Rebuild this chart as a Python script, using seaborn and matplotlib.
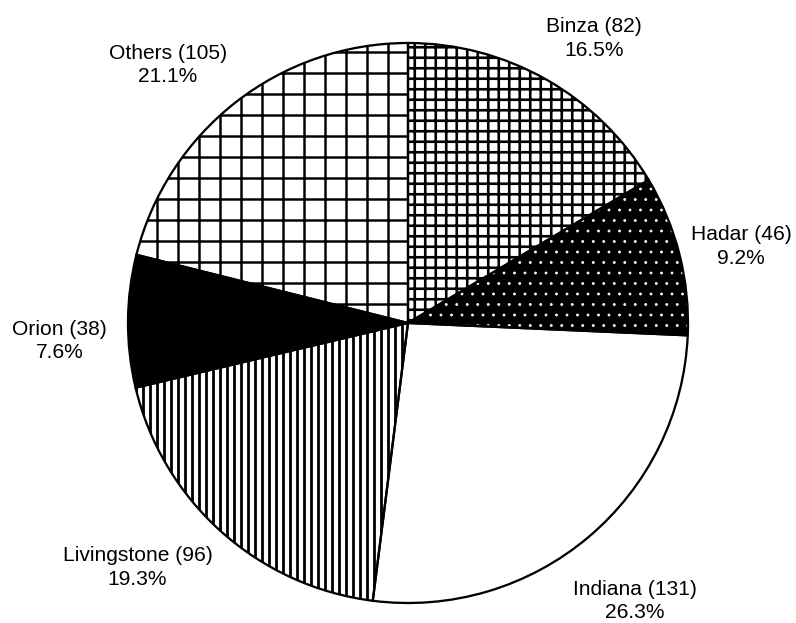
# pie of sites with hatch fills (black & white print style)
import matplotlib
matplotlib.use("Agg")
import matplotlib.pyplot as plt
import seaborn as sns

# -------------------------
# data
# -------------------------
sites = ["Binza", "Hadar", "Indiana", "Livingstone", "Orion", "Others"]
counts = [82, 46, 131, 96, 38, 105]

# fill styles per slice: face colour, hatch pattern, hatch colour, hatch width
faces = ["white", "black", "white", "white", "black", "white"]
hatches = ["++", "..", "", "|||", "", "+"]
hatch_cols = ["black", "white", "black", "black", "black", "black"]
hatch_lw = [1.5, 0.4, 1.5, 1.6, 1.5, 1.4]

# label centres (pie radius = 1)
label_xy = [(0.663, 1.016), (1.189, 0.273), (0.809, -0.993),
            (-0.966, -0.873), (-1.245, -0.064), (-0.857, 0.921)]

sns.set_theme(style="white")
plt.rcParams["font.family"] = ["Liberation Sans", "DejaVu Sans"]
plt.rcParams["hatch.linewidth"] = 1.5

total = sum(counts)
labels = [f"{s} ({c})\n{100 * c / total:.1f}%" for s, c in zip(sites, counts)]

dpi = 126
fig = plt.figure(figsize=(796 / dpi, 623 / dpi), dpi=dpi)
ax = fig.add_axes([0, 0, 1, 1])

# pass 1: fills + hatches
wedges, texts = ax.pie(counts, labels=labels, startangle=90, counterclock=False,
                       radius=1, labeldistance=1.2,
                       wedgeprops=dict(linewidth=0))
for w, fc, h, hc, lw in zip(wedges, faces, hatches, hatch_cols, hatch_lw):
    w.set_facecolor(fc)
    w.set_edgecolor(hc)
    w.set_hatch(h)
    w.set_linewidth(0)
    if hasattr(w, "set_hatch_linewidth"):
        w.set_hatch_linewidth(lw)

for t, xy in zip(texts, label_xy):
    t.set_position(xy)
    t.set_ha("center")
    t.set_va("center")
    t.set_fontsize(12)
    t.set_linespacing(1.3)
    t.set_color("black")

# pass 2: outlines
ax.pie(counts, startangle=90, counterclock=False, radius=1,
       wedgeprops=dict(fill=False, edgecolor="black", linewidth=1.3))

# place the pie like the reference (centre ~ (408, 323) px, r ~ 280 px)
ax.set_xlim(-408 / 280, (796 - 408) / 280)
ax.set_ylim(-(623 - 323) / 280, 323 / 280)
ax.set_aspect("auto")
ax.axis("off")

fig.savefig("out.png", dpi=dpi, facecolor="white")
